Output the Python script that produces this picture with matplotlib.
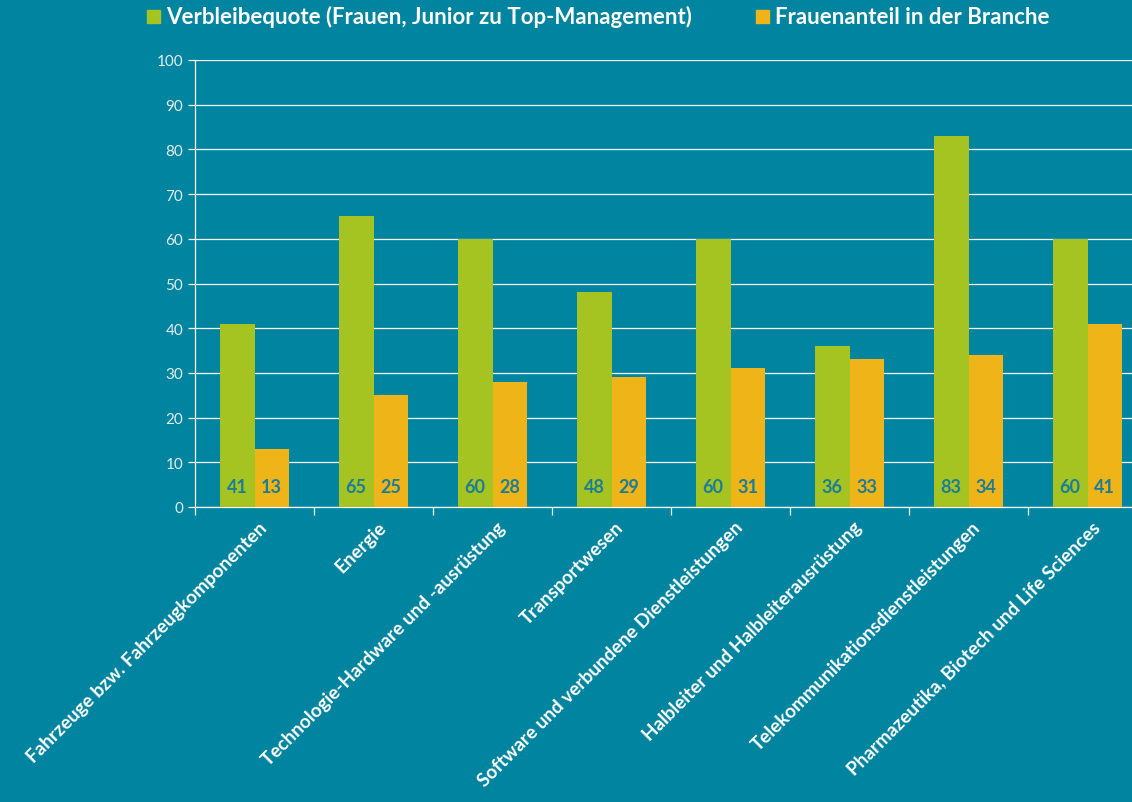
import numpy as np
import matplotlib.pyplot as plt

plt.rcParams['font.family'] = ['Lato', 'DejaVu Sans']

# data
categories = ['Fahrzeuge bzw. Fahrzeugkomponenten', 'Energie',
              'Technologie-Hardware und -ausrüstung', 'Transportwesen',
              'Software und verbundene Dienstleistungen',
              'Halbleiter und Halbleiterausrüstung',
              'Telekommunikationsdienstleistungen',
              'Pharmazeutika, Biotech und Life Sciences']
verbleibequote = [41, 65, 60, 48, 60, 36, 83, 60]
frauenanteil = [13, 25, 28, 29, 31, 33, 34, 41]
series_names = ['Verbleibequote (Frauen, Junior zu Top-Management)',
                'Frauenanteil in der Branche']

bg = '#00849F'
green = '#A5C422'
orange = '#EFB418'
label_col = '#1A7E98'

fig = plt.figure(figsize=(11.32, 8.03), dpi=100, facecolor=bg)
ax = fig.add_axes([195 / 1132, 295 / 803, 952 / 1132, 447 / 803])
ax.set_facecolor(bg)

x = np.arange(len(categories))
w = 0.29
b1 = ax.bar(x - w / 2, verbleibequote, w, color=green, zorder=3)
b2 = ax.bar(x + w / 2, frauenanteil, w, color=orange, zorder=3)

for bars, vals in [(b1, verbleibequote), (b2, frauenanteil)]:
    for r, v in zip(bars, vals):
        ax.text(r.get_x() + r.get_width() / 2, 4.5, str(v), ha='center', va='center',
                color=label_col, fontsize=13, fontweight='bold', zorder=4)

ax.set_xlim(-0.5, len(categories) - 0.5)
ax.set_ylim(0, 100)
ax.set_yticks(range(0, 101, 10))
ax.yaxis.grid(True, color='white', linewidth=0.9, zorder=0)
ax.tick_params(axis='y', colors='white', labelcolor='#E3F0F3', labelsize=11,
               length=5, width=0.9)

# ticks between categories on the x axis
ax.set_xticks(np.arange(len(categories) + 1) - 0.5)
ax.set_xticklabels([])
ax.tick_params(axis='x', colors='white', length=6, width=0.9)
for i, c in enumerate(categories):
    ax.text(i + 0.03, -2.5, c, rotation=45, ha='right', va='top', rotation_mode='anchor',
            color='white', fontsize=13.6, fontweight='bold')

for s in ['top', 'right']:
    ax.spines[s].set_visible(False)
for s in ['left', 'bottom']:
    ax.spines[s].set_color('white')
    ax.spines[s].set_linewidth(0.9)

# legend at the top
fig.patches.append(plt.Rectangle((147 / 1132, 1 - 24 / 803), 13 / 1132, 13 / 803,
                                 transform=fig.transFigure, color=green))
fig.text(166 / 1132, 1 - 17 / 803, series_names[0], color='white', fontsize=16,
         fontweight='bold', va='center')
fig.patches.append(plt.Rectangle((756 / 1132, 1 - 24 / 803), 13 / 1132, 13 / 803,
                                 transform=fig.transFigure, color=orange))
fig.text(775 / 1132, 1 - 17 / 803, series_names[1], color='white', fontsize=16,
         fontweight='bold', va='center')

fig.savefig('out.png', dpi=100, facecolor=bg)
